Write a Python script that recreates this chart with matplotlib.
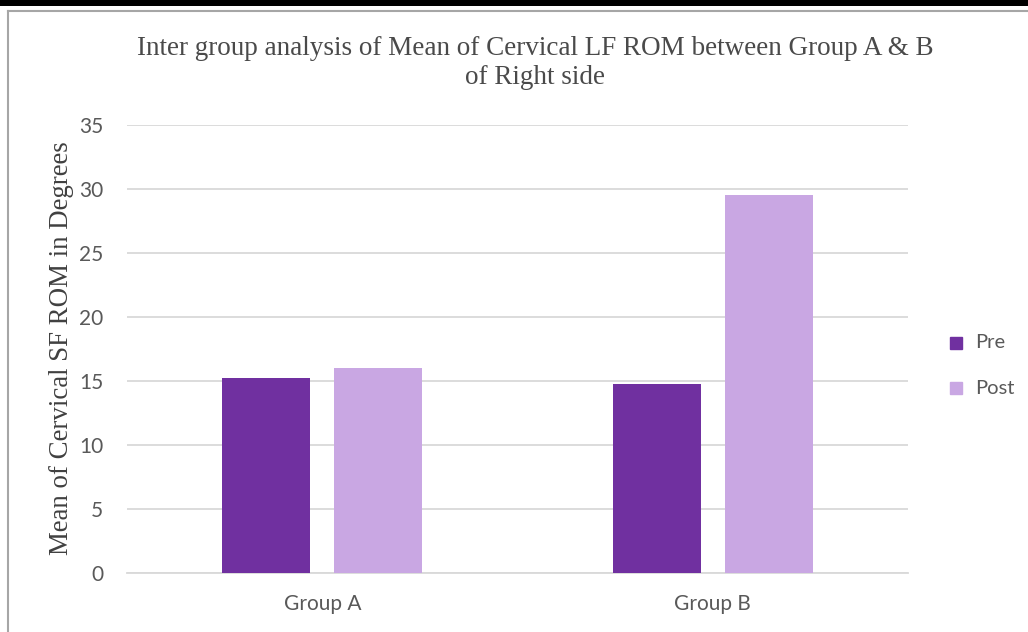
import matplotlib
matplotlib.use("Agg")
import matplotlib.pyplot as plt
from matplotlib.lines import Line2D
from matplotlib.patches import Rectangle
import numpy as np

categories = ["Group A", "Group B"]
series_names = ["Pre", "Post"]
pre_values = [15.23, 14.8]
post_values = [16.04, 29.5]
y_ticks = [0, 5, 10, 15, 20, 25, 30, 35]

title = "Inter group analysis of Mean of Cervical LF ROM between Group A & B\nof Right side"
ylabel = "Mean of Cervical SF ROM in Degrees"
colors = ["#7030A0", "#C9A7E3"]

W, H = 1028, 632
fig = plt.figure(figsize=(W / 100, H / 100), dpi=100)
fig.patch.set_facecolor("white")

# axes in pixel coords: x 127..908, y 125..573
ax = fig.add_axes([127 / W, 1 - 573 / H, (908 - 127) / W, (573 - 125) / H])

x = np.arange(len(categories))
bw = 88 / 390.5
gap = 24 / 390.5
ax.bar(x - (bw + gap) / 2, pre_values, width=bw, color=colors[0], label=series_names[0], zorder=3)
ax.bar(x + (bw + gap) / 2, post_values, width=bw, color=colors[1], label=series_names[1], zorder=3)

ax.set_xlim(-0.5, len(categories) - 0.5)
ax.set_ylim(0, 35)
ax.set_yticks(y_ticks)
ax.set_yticklabels([str(t) for t in y_ticks], fontsize=15, color="#595959", family="Lato")
ax.set_xticks(x)
ax.set_xticklabels(categories, fontsize=15, color="#595959", family="Lato")
ax.tick_params(axis="both", length=0)
ax.tick_params(axis="y", pad=17)
ax.tick_params(axis="x", pad=15)
ax.grid(axis="y", color="#D9D9D9", linewidth=1.3, zorder=0)
for s in ["top", "right", "left"]:
    ax.spines[s].set_visible(False)
ax.spines["bottom"].set_color("#D9D9D9")
ax.spines["bottom"].set_linewidth(1.3)

fig.text(535 / W, 1 - 63 / H, title, ha="center", va="center", fontsize=19.5,
         color="#4a4a4a", family="Liberation Serif", linespacing=1.25)
fig.text(62 / W, 1 - 348 / H, ylabel, ha="center", va="center", rotation=90,
         fontsize=19.4, color="#404040", family="Liberation Serif")

# legend
for i, (name, c) in enumerate(zip(series_names, colors)):
    yc = 343 + i * 45
    fig.add_artist(Rectangle((950 / W, 1 - (yc + 6) / H), 12 / W, 12 / H,
                             transform=fig.transFigure, color=c))
    fig.text(975 / W, 1 - yc / H, name, ha="left", va="center", fontsize=14.5,
             color="#595959", family="Lato")

# page borders
fig.add_artist(Rectangle((0, 1 - 5.5 / H), 1, 5.5 / H, transform=fig.transFigure,
                         color="black", lw=0))
fig.add_artist(Line2D([7.5 / W, 1], [1 - 10.5 / H, 1 - 10.5 / H], transform=fig.transFigure,
                      color="#A6A6A6", lw=1.5))
fig.add_artist(Line2D([7.5 / W, 7.5 / W], [0, 1 - 10.5 / H], transform=fig.transFigure,
                      color="#A6A6A6", lw=1.5))

fig.savefig("out.png", dpi=100, facecolor="white")
